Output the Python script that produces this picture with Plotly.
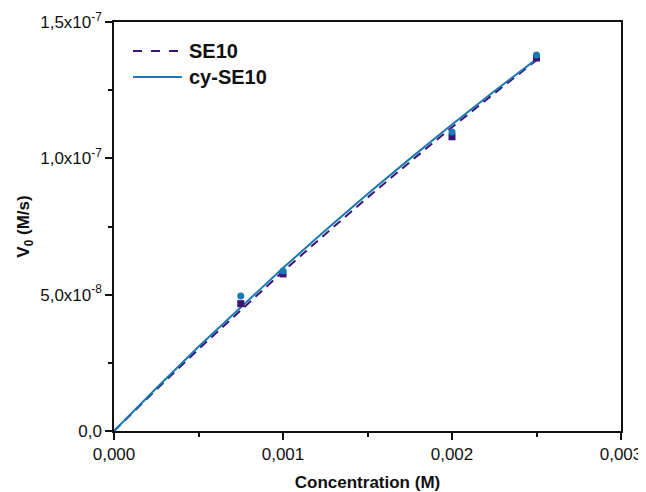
import plotly.graph_objects as go

# measured points
conc_pts = [0.00075, 0.001, 0.002, 0.0025]
se10_pts = [4.67e-8, 5.76e-8, 1.079e-7, 1.368e-7]
cyse10_pts = [4.95e-8, 5.87e-8, 1.097e-7, 1.379e-7]

# fitted curves
conc_fit = [0.0, 0.00025, 0.0005, 0.00075, 0.001, 0.00125, 0.0015, 0.00175, 0.002, 0.00225, 0.0025]
se10_fit = [0.0, 1.52e-8, 3.00e-8, 4.44e-8, 5.85e-8, 7.22e-8, 8.56e-8, 9.86e-8, 1.114e-7, 1.238e-7, 1.360e-7]
cyse10_fit = [0.0, 1.57e-8, 3.09e-8, 4.55e-8, 5.98e-8, 7.35e-8, 8.69e-8, 9.98e-8, 1.124e-7, 1.246e-7, 1.364e-7]

series_names = ["SE10", "cy-SE10"]

x_tickvals = [0, 0.001, 0.002, 0.003]
x_ticktext = ["0,000", "0,001", "0,002", "0,003"]
y_tickvals = [0, 5e-8, 1e-7, 1.5e-7]
y_ticktext = ["0,0", "5,0x10<sup>-8</sup>", "1,0x10<sup>-7</sup>", "1,5x10<sup>-7</sup>"]

purple = "#3c1473"
blue = "#1b79b6"
ink = "#111111"
FAM = "Liberation Sans, Arial, sans-serif"

fig = go.Figure()
fig.add_trace(go.Scatter(x=conc_fit, y=se10_fit, mode="lines", name=series_names[0], showlegend=False,
                         line=dict(color=purple, width=2, dash="9px,6px")))
fig.add_trace(go.Scatter(x=conc_fit, y=cyse10_fit, mode="lines", name=series_names[1], showlegend=False,
                         line=dict(color=blue, width=2)))
fig.add_trace(go.Scatter(x=conc_pts, y=se10_pts, mode="markers", showlegend=False,
                         marker=dict(symbol="square", size=7, color=purple)))
fig.add_trace(go.Scatter(x=conc_pts, y=cyse10_pts, mode="markers", showlegend=False,
                         marker=dict(symbol="circle", size=7, color=blue)))

# legend drawn in paper coordinates
leg_rows = [(0.929, purple, "dash", series_names[0]), (0.8655, blue, "solid", series_names[1])]
shapes = []
annotations = []
for yy, col, dash, name in leg_rows:
    shapes.append(dict(type="line", xref="paper", yref="paper", x0=0.0375, x1=0.134, y0=yy, y1=yy,
                       line=dict(color=col, width=2, dash=dash)))
    annotations.append(dict(xref="paper", yref="paper", x=0.144, y=yy, xanchor="left", yanchor="middle",
                            text="<b>%s</b>" % name, showarrow=False,
                            font=dict(family=FAM, size=20, color=ink)))

fig.update_layout(
    width=638, height=484,
    margin=dict(l=106, r=25, t=14, b=61),
    paper_bgcolor="white", plot_bgcolor="white",
    font=dict(family=FAM, size=17, color=ink),
    showlegend=False,
    shapes=shapes, annotations=annotations,
)
fig.update_xaxes(
    range=[0, 0.003], tickvals=x_tickvals, ticktext=x_ticktext,
    showgrid=False, zeroline=False, showline=True, linecolor=ink, linewidth=1.5,
    mirror=True, ticks="outside", ticklen=7, tickcolor=ink, tickwidth=1.5,
    minor=dict(tickvals=[0.0005, 0.0015, 0.0025], ticks="outside", ticklen=4, tickcolor=ink, tickwidth=1.5, showgrid=False),
    title=dict(text="<b>Concentration (M)</b>", font=dict(size=17), standoff=20),
    automargin=False,
)
fig.update_yaxes(
    range=[0, 1.5e-7], tickvals=y_tickvals, ticktext=y_ticktext,
    showgrid=False, zeroline=False, showline=True, linecolor=ink, linewidth=1.5,
    mirror=True, ticks="outside", ticklen=7, tickcolor=ink, tickwidth=1.5,
    minor=dict(tickvals=[2.5e-8, 7.5e-8, 1.25e-7], ticks="outside", ticklen=4, tickcolor=ink, tickwidth=1.5, showgrid=False),
    title=dict(text="<b>V<sub>0</sub> (M/s)</b>", font=dict(size=17), standoff=6),
    automargin=False,
)

fig.write_html("out.html")
